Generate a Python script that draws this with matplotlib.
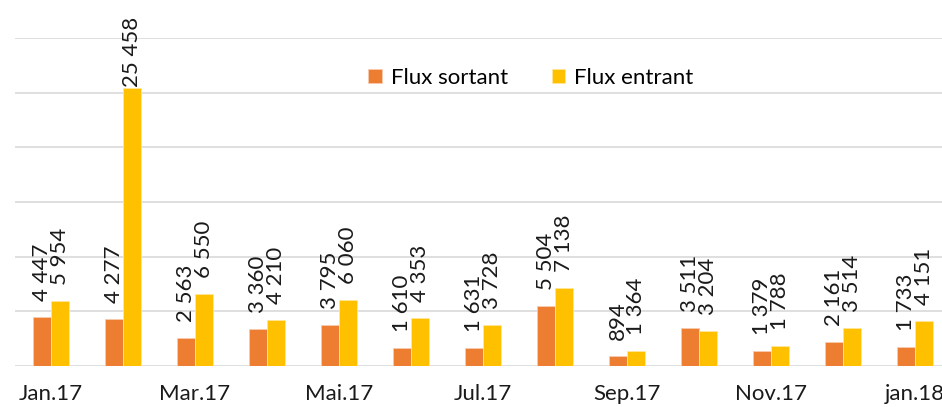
import matplotlib
matplotlib.use("Agg")
import matplotlib.pyplot as plt
import numpy as np

months = ["Jan.17", "Fév.17", "Mar.17", "Avr.17", "Mai.17", "Juin.17", "Jul.17",
          "Aoû.17", "Sep.17", "Oct.17", "Nov.17", "Déc.17", "jan.18"]
flux_sortant = [4447, 4277, 2563, 3360, 3795, 1610, 1631, 5504, 894, 3511, 1379, 2161, 1733]
flux_entrant = [5954, 25458, 6550, 4210, 6060, 4353, 3728, 7138, 1364, 3204, 1788, 3514, 4151]

plt.rcParams['font.family'] = ['Lato', 'DejaVu Sans']

W, H = 942, 407
fig = plt.figure(figsize=(W / 100, H / 100), dpi=100)
ax = fig.add_axes([15 / W, (H - 366) / H, 936 / W, 328 / H])

x = np.arange(len(months))
bw = 0.255
c_out = "#ED7D31"
c_in = "#FFC000"
ax.bar(x - bw / 2, flux_sortant, bw, color=c_out, edgecolor="#F8CBAD", linewidth=0.6,
       label="Flux sortant", zorder=3)
ax.bar(x + bw / 2, flux_entrant, bw, color=c_in, edgecolor="#FFE699", linewidth=0.6,
       label="Flux entrant", zorder=3)

ax.set_xlim(-0.5, len(months) - 0.5)
ax.set_ylim(0, 30000)
ax.set_yticks(np.arange(0, 30001, 5000))
ax.yaxis.grid(True, color="#D9D9D9", linewidth=1.2, zorder=0)
ax.tick_params(axis="y", left=False, labelleft=False)
for s in ax.spines.values():
    s.set_visible(False)

ax.set_xticks(x[::2])
ax.set_xticklabels(months[::2], fontsize=16, color="#1a1a1a")
ax.tick_params(axis="x", length=0, pad=13)

def fmt(v):
    return f"{v:,}".replace(",", " ")

top_limit = 24000
for xs, vals in ((x - bw / 2, flux_sortant), (x + bw / 2, flux_entrant)):
    for xi, v in zip(xs, vals):
        off = 16 if v < top_limit else 1
        ax.annotate(fmt(v), (xi, v), xytext=(0, off), textcoords="offset pixels",
                    rotation=90, ha="center", va="bottom", fontsize=16,
                    color="#1a1a1a", annotation_clip=False)

leg = ax.legend(loc="center", bbox_to_anchor=(531 / W, 1 - 78 / H),
                bbox_transform=fig.transFigure, ncol=2, frameon=False,
                fontsize=16, handlelength=0.6, handleheight=0.6,
                handletextpad=0.4, columnspacing=2.0)

fig.savefig("out.png", dpi=100)
